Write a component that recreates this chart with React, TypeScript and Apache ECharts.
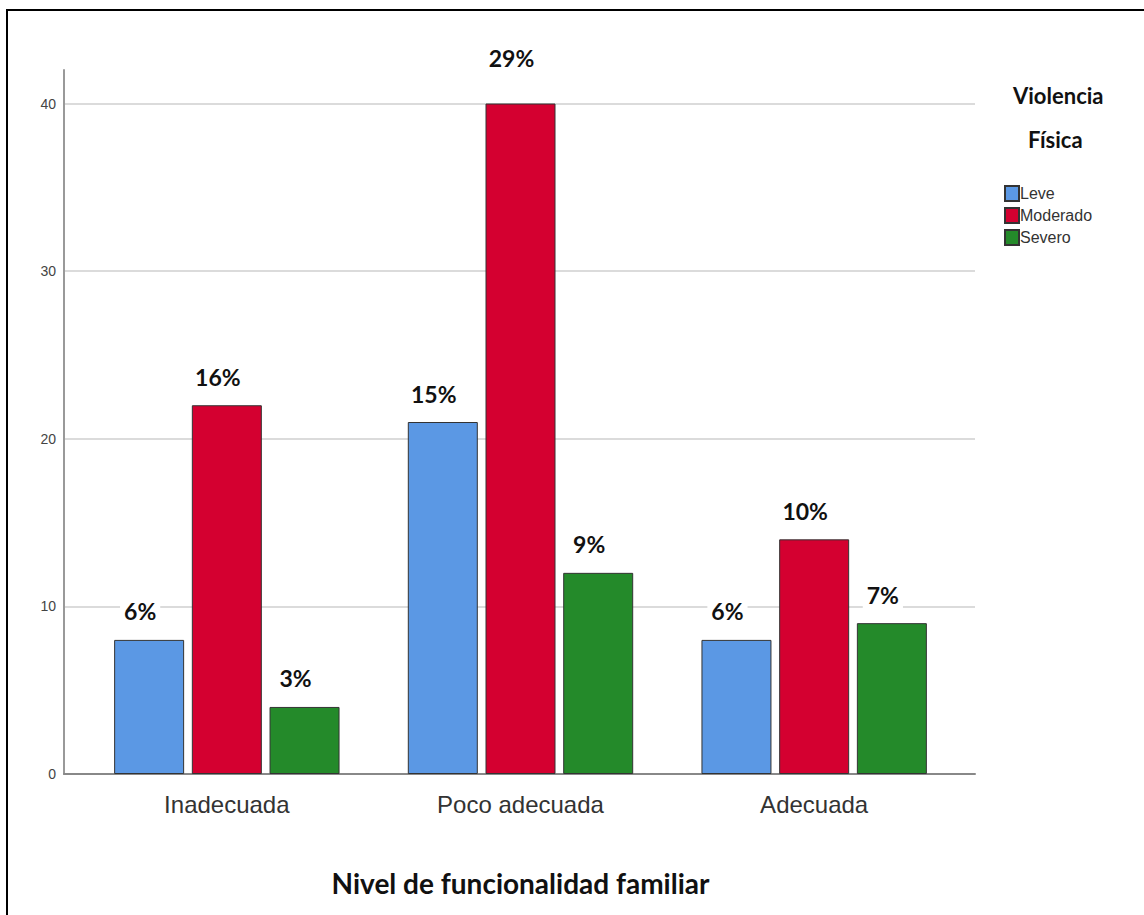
import React, { useEffect, useRef } from "react";
import * as echarts from "echarts";

const categories = ["Inadecuada", "Poco adecuada", "Adecuada"];
const seriesNames = ["Leve", "Moderado", "Severo"];
const leve = [8, 21, 8];
const moderado = [22, 40, 14];
const severo = [4, 12, 9];
const leveLabels = ["6%", "15%", "6%"];
const moderadoLabels = ["16%", "29%", "10%"];
const severoLabels = ["3%", "9%", "7%"];
const yTicks = [0, 10, 20, 30, 40];

const colors = ["#5B98E4", "#D40030", "#248A2A"];

export default function App() {
  const ref = useRef<HTMLDivElement>(null);
  useEffect(() => {
    if (!ref.current) return;
    const chart = echarts.init(ref.current, null, { renderer: "svg" });
    const values = [leve, moderado, severo];
    const labels = [leveLabels, moderadoLabels, severoLabels];
    const series = seriesNames.map((name, i) => ({
      name,
      type: "bar",
      xAxisIndex: 0,
      yAxisIndex: 0,
      barWidth: 70,
      barGap: "11%",
      data: values[i].map((v, j) =>
        i === 1 && j === 1 ? { value: v, label: { distance: 32 } } : v
      ),
      itemStyle: { color: colors[i], borderColor: "#333", borderWidth: 1 },
      label: {
        show: true,
        position: "top",
        distance: 15,
        offset: [-9, 0],
        formatter: (p: any) => labels[i][p.dataIndex],
        fontFamily: "Lato",
        fontWeight: "bold",
        fontSize: 23,
        color: "#111",
        backgroundColor: "#fff",
        padding: [2, 4],
      },
    }));
    chart.setOption({
      animation: false,
      backgroundColor: "#fff",
      grid: [
        { left: 80, right: 183, top: 70, bottom: 141 },
        { left: 64, right: 169, top: 70, bottom: 141 },
      ],
      legend: {
        orient: "vertical",
        left: 999,
        top: 180,
        icon: "rect",
        itemWidth: 14,
        itemHeight: 15,
        itemGap: 5,
        data: seriesNames,
        textStyle: {
          fontFamily: "Liberation Sans Narrow, Arial",
          fontSize: 16,
          color: "#333",
          padding: [0, 0, 0, -4],
        },
      },
      xAxis: [
        {
          type: "category",
          gridIndex: 0,
          data: categories,
          axisLine: { show: false },
          axisTick: { show: false },
          axisLabel: {
            fontFamily: "Liberation Sans Narrow, Arial",
            fontSize: 24,
            color: "#333",
            margin: 18,
          },
          name: "Nivel de funcionalidad familiar",
          nameLocation: "middle",
          nameGap: 95,
          nameTextStyle: {
            fontFamily: "Lato",
            fontWeight: "bold",
            fontSize: 28,
            color: "#111",
          },
        },
        {
          type: "value",
          gridIndex: 1,
          min: 0,
          max: 1,
          axisLine: { show: true, lineStyle: { color: "#888", width: 2 } },
          axisTick: { show: false },
          axisLabel: { show: false },
          splitLine: { show: false },
        },
      ],
      yAxis: [
        { type: "value", gridIndex: 0, min: 0, max: 42, show: false },
        {
          type: "value",
          gridIndex: 1,
          min: 0,
          max: 42,
          interval: 10,
          axisLine: { show: true, lineStyle: { color: "#999", width: 2 } },
          axisTick: { show: false },
          axisLabel: {
            showMaxLabel: false,
            formatter: (v: number) => (yTicks.includes(v) ? String(v) : ""),
            fontFamily: "Arial",
            fontSize: 14,
            color: "#444",
            margin: 8,
          },
          splitLine: { show: true, showMaxLine: false, lineStyle: { color: "#cfcfcf", width: 1.5 } },
        },
      ],
      graphic: [
        {
          type: "text",
          left: 1013,
          top: 84,
          style: {
            text: "Violencia",
            fontFamily: "Lato",
            fontWeight: "bold",
            fontSize: 22,
            fill: "#111",
          },
        },
        {
          type: "text",
          left: 1028,
          top: 128,
          style: {
            text: "Física",
            fontFamily: "Lato",
            fontWeight: "bold",
            fontSize: 22,
            fill: "#111",
          },
        },
        {
          type: "line",
          shape: { x1: 7, y1: 10, x2: 7, y2: 915 },
          style: { stroke: "#000", lineWidth: 2 },
        },
        {
          type: "line",
          shape: { x1: 6, y1: 10, x2: 1144, y2: 10 },
          style: { stroke: "#000", lineWidth: 2 },
        },
      ],
      series,
    });
    return () => chart.dispose();
  }, []);
  return (
    <div
      ref={ref}
      style={{ position: "fixed", left: 0, top: 0, width: 1144, height: 915 }}
    />
  );
}
